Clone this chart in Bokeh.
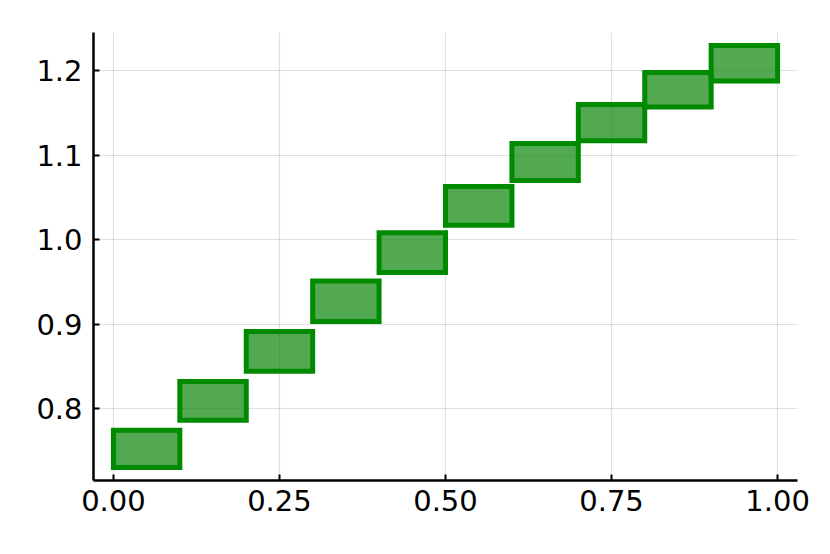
from bokeh.plotting import figure
from bokeh.models import Range1d, FixedTicker, ColumnDataSource
from bokeh.embed import file_html
from bokeh.resources import INLINE

# data: rectangle x extents and y extents
x_left = [0.0, 0.1, 0.2, 0.3, 0.4, 0.5, 0.6, 0.7, 0.8, 0.9]
x_right = [0.1, 0.2, 0.3, 0.4, 0.5, 0.6, 0.7, 0.8, 0.9, 1.0]
y_low = [0.730, 0.786, 0.844, 0.903, 0.961, 1.017, 1.070, 1.117, 1.157, 1.188]
y_high = [0.774, 0.832, 0.891, 0.951, 1.008, 1.063, 1.114, 1.160, 1.198, 1.230]
x_ticks = [0.0, 0.25, 0.5, 0.75, 1.0]
x_tick_labels = ["0.00", "0.25", "0.50", "0.75", "1.00"]
y_ticks = [0.8, 0.9, 1.0, 1.1, 1.2]
y_tick_labels = ["0.8", "0.9", "1.0", "1.1", "1.2"]

src = ColumnDataSource(dict(left=x_left, right=x_right, bottom=y_low, top=y_high))

p = figure(width=814, height=538, output_backend="svg", toolbar_location=None,
           x_range=Range1d(-0.03, 1.03), y_range=Range1d(0.7146, 1.2454),
           min_border_left=93, min_border_right=17, min_border_top=32, min_border_bottom=58)
p.outline_line_color = None
p.background_fill_color = "white"
p.border_fill_color = "white"

p.quad(left="left", right="right", bottom="bottom", top="top", source=src,
       fill_color="#008000", fill_alpha=0.68, line_color="#008a00", line_width=5,
       line_join="miter")

for ax in (p.xaxis[0], p.yaxis[0]):
    ax.axis_line_width = 2.5
    ax.axis_line_color = "black"
    ax.major_tick_in = 6
    ax.major_tick_out = 0
    ax.major_tick_line_width = 2
    ax.minor_tick_line_color = None
    ax.major_label_text_font = "DejaVu Sans"
    ax.major_label_text_font_size = "29px"
    ax.major_label_text_color = "black"

p.xaxis[0].ticker = FixedTicker(ticks=x_ticks)
p.xaxis[0].major_label_overrides = dict(zip(x_ticks, x_tick_labels))
p.xaxis[0].major_label_standoff = 9
p.yaxis[0].ticker = FixedTicker(ticks=y_ticks)
p.yaxis[0].major_label_overrides = dict(zip(y_ticks, y_tick_labels))
p.yaxis[0].major_label_standoff = 11

p.xgrid.ticker = FixedTicker(ticks=x_ticks)
p.ygrid.ticker = FixedTicker(ticks=y_ticks)
for g in (p.xgrid[0], p.ygrid[0]):
    g.grid_line_color = "black"
    g.grid_line_alpha = 0.12
    g.grid_line_width = 1.2

open("out.html", "w").write(file_html(p, INLINE))
